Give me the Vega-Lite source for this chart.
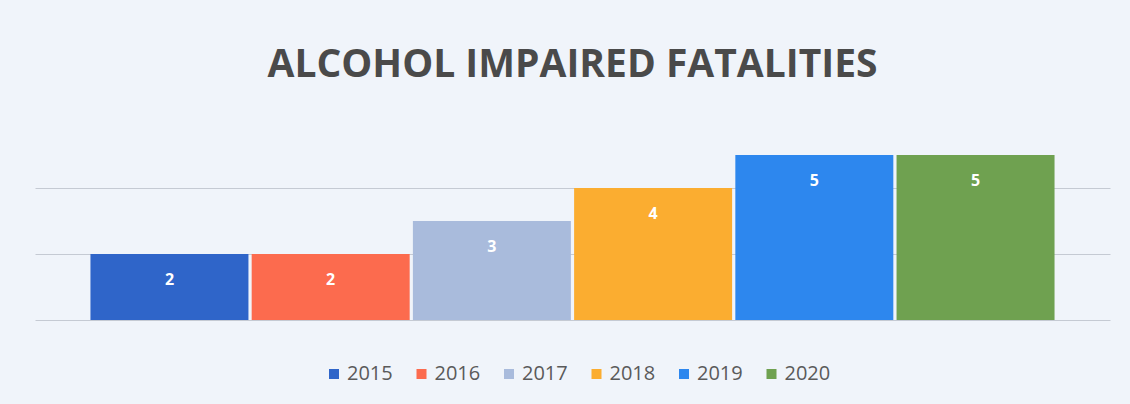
{
  "$schema": "https://vega.github.io/schema/vega-lite/v6.json",
  "autosize": "none",
  "width": 1075,
  "height": 165,
  "padding": {"left": 35, "top": 155, "right": 20, "bottom": 84},
  "background": "#f0f4fa",
  "config": {"view": {"stroke": null}, "font": "Open Sans"},
  "title": {
    "text": "ALCOHOL IMPAIRED FATALITIES",
    "font": "Open Sans",
    "fontSize": 39,
    "fontWeight": "bold",
    "color": "#4a4a4a",
    "anchor": "middle",
    "offset": 70
  },
  "data": {
    "values": [
      {"year": "2015", "fatalities": 2},
      {"year": "2016", "fatalities": 2},
      {"year": "2017", "fatalities": 3},
      {"year": "2018", "fatalities": 4},
      {"year": "2019", "fatalities": 5},
      {"year": "2020", "fatalities": 5}
    ]
  },
  "encoding": {
    "x": {
      "field": "year",
      "type": "nominal",
      "scale": {"paddingInner": 0.02, "paddingOuter": 0.344},
      "axis": null
    },
    "y": {
      "field": "fatalities",
      "type": "quantitative",
      "scale": {"domain": [0, 5], "nice": false},
      "axis": {
        "values": [0, 2, 4],
        "labels": false,
        "ticks": false,
        "domain": false,
        "title": null,
        "grid": true,
        "gridColor": "#c5cad3",
        "gridWidth": 1.2
      }
    }
  },
  "layer": [
    {
      "mark": {"type": "bar"},
      "encoding": {
        "color": {
          "field": "year",
          "type": "nominal",
          "scale": {
            "domain": ["2015", "2016", "2017", "2018", "2019", "2020"],
            "range": ["#2f65c9", "#fc6b4e", "#a9bbdc", "#fbad30", "#2d87ee", "#6fa150"]
          },
          "legend": {
            "orient": "none",
            "direction": "horizontal",
            "legendX": 289,
            "legendY": 209,
            "title": null,
            "symbolType": "square",
            "symbolSize": 100,
            "labelFontSize": 20,
            "labelColor": "#5a5a5a",
            "labelFont": "Open Sans",
            "columnPadding": 18.5,
            "symbolOffset": 0,
            "labelOffset": 3
          }
        }
      }
    },
    {
      "mark": {"type": "text", "color": "white", "fontWeight": "bold", "fontSize": 16, "baseline": "middle", "dy": 26},
      "encoding": {
        "text": {"field": "fatalities", "type": "quantitative"}
      }
    }
  ]
}
